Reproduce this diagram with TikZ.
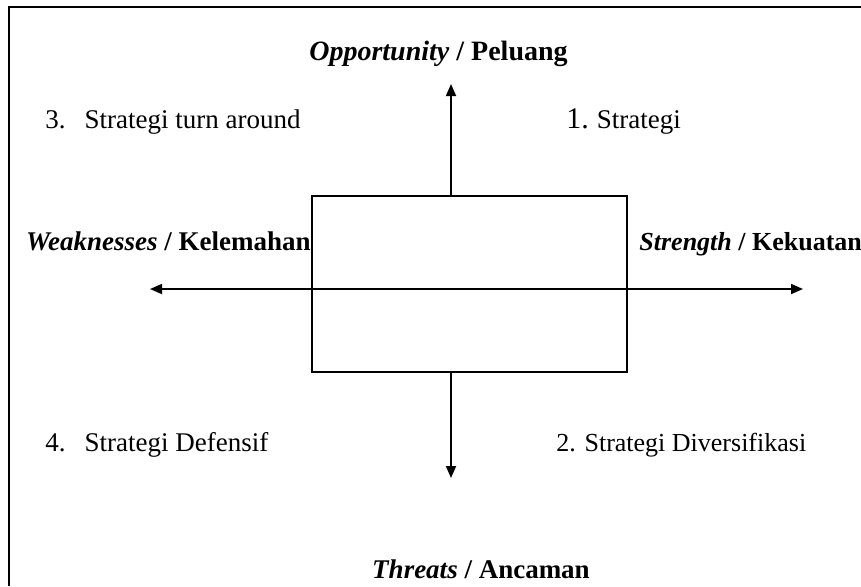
\documentclass[tikz,border=0pt]{standalone}
\usepackage{fontspec}
\setmainfont{Liberation Serif}
\usetikzlibrary{arrows.meta}

\begin{document}
\begin{tikzpicture}[x=0.5pt, y=-0.5pt,
    axisline/.style={line width=0.9pt, -{Triangle[length=6pt, width=5pt]}},
    axislabel/.style={font=\fontsize{13.5}{15}\selectfont\bfseries, inner sep=0pt},
    strat/.style={font=\fontsize{13.5}{15}\selectfont, inner sep=0pt, anchor=base west}]
  \useasboundingbox (0,0) rectangle (861,586);

  % outer frame (cut by the page on the right and at the bottom)
  \draw[line width=0.9pt] (861,7) -- (9,7) -- (9,586);

  \node[draw, line width=0.9pt, inner sep=0pt, minimum width=157.5pt, minimum height=88pt]
    (box) at (469.5,284) {};

  \coordinate (optip) at (451,84);
  \coordinate (thtip) at (451,478);
  \coordinate (wktip) at (150,289);
  \coordinate (sttip) at (803,289);

  \draw[axisline] (box.north -| optip) -- (optip);
  \draw[axisline] (box.south -| thtip) -- (thtip);
  \draw[axisline, {Triangle[length=6pt, width=5pt]}-{Triangle[length=6pt, width=5pt]}]
    (wktip) -- (sttip);

  \node[axislabel, font=\fontsize{14}{15}\selectfont\bfseries, anchor=base] (opp) at (438.5,60)
    {\textit{Opportunity} / Peluang};
  \node[axislabel, anchor=base east] (weak) at (311,250) {\textit{Weaknesses} / Kelemahan};
  \node[axislabel, font=\fontsize{13}{15}\selectfont\bfseries, anchor=base west] (str) at (639,250)
    {\textit{Strength} / Kekuatan};
  \node[axislabel, anchor=base] (thr) at (481,578) {\textit{Threats} / Ancaman};

  \foreach \i/\pos/\txt in {3/{(45,128)}/{3.\hspace{9.5pt}Strategi turn around},
                            4/{(45,451)}/{4.\hspace{9.5pt}Strategi Defensif}} {
    \node[strat] (s\i) at \pos {\txt};
  }
  \node[strat, font=\fontsize{13}{15}\selectfont] (s2) at (556,451) {2. Strategi Diversifikasi};
  \node[strat] (s1) at (566,128) {{\fontsize{15}{15}\selectfont 1.}\hspace{4pt}Strategi};

\end{tikzpicture}
\end{document}
